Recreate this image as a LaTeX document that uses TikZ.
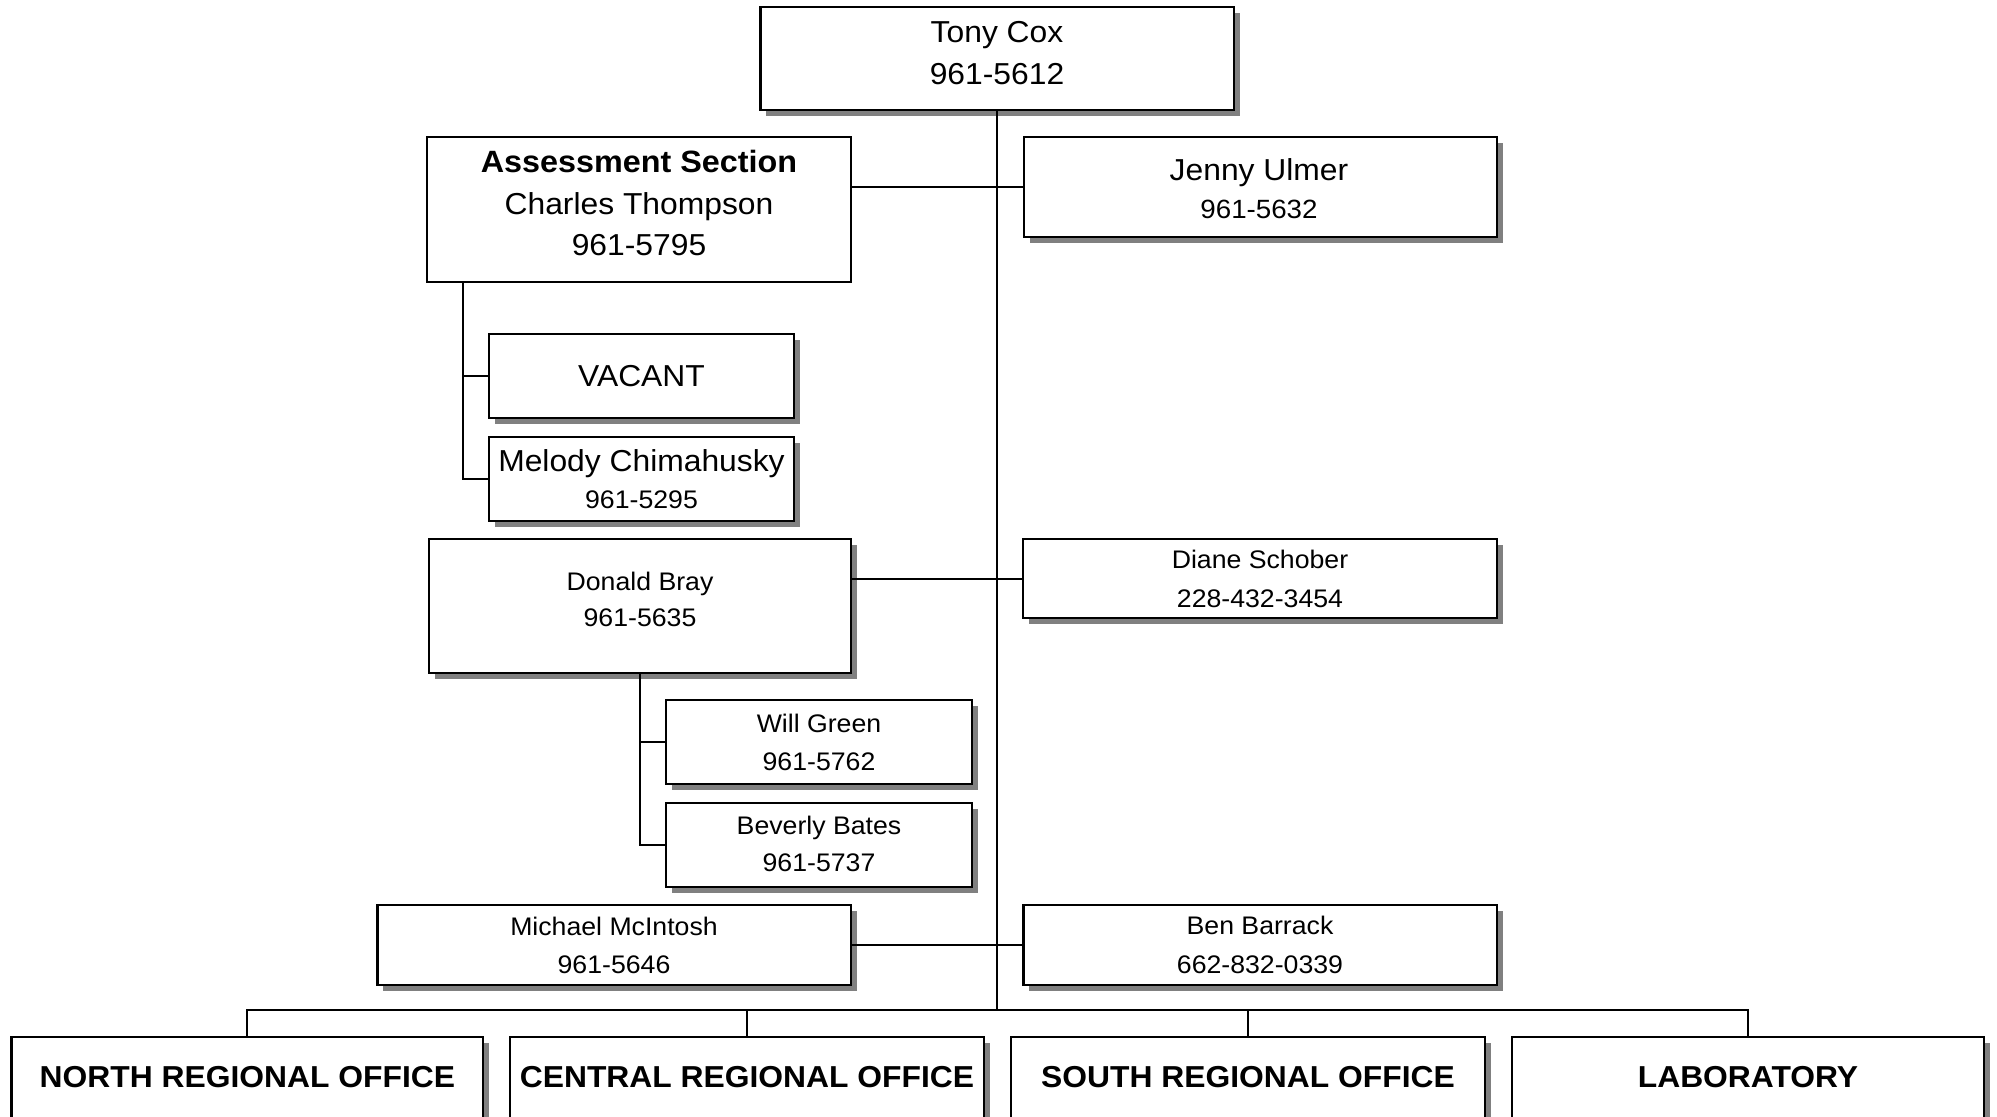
\documentclass[tikz,border=0pt]{standalone}
\usepackage{fontspec}
\setmainfont[FakeStretch=1.05]{Liberation Sans}
\usetikzlibrary{fit,shadows}
\begin{document}
\begin{tikzpicture}[x=0.5pt,y=-0.5pt,
  box/.style={draw=black,line width=1.35pt,fill=white,inner sep=0pt,rectangle},
  shad/.style={box,drop shadow={shadow xshift=2.75pt,shadow yshift=-2.75pt,fill=black!50,opacity=1}},
  conn/.style={draw=black,line width=1pt},
  big/.style={anchor=base,inner sep=0pt,font=\fontsize{15.15pt}{18pt}\selectfont},
  med/.style={anchor=base,inner sep=0pt,font=\fontsize{12.7pt}{15pt}\selectfont},
  jnum/.style={anchor=base,inner sep=0pt,font=\fontsize{13.2pt}{16pt}\selectfont},
  head/.style={anchor=base,inner sep=0pt,font=\fontsize{15.4pt}{19pt}\selectfont\bfseries},
  office/.style={anchor=base,inner sep=0pt,font=\fontsize{15.15pt}{18pt}\selectfont\bfseries}]
\useasboundingbox (0,0) rectangle (1997,1116);
\clip (0,0) rectangle (1997,1116);
\fill[white] (0,0) rectangle (1997,1116);

% boxes
\node[shad,fit={(760.7,7) (1234,110)}] (tony) {};
\node[box,fit={(427,137) (851,282)}] (assess) {};
\node[shad,fit={(1024,137) (1497,237)}] (jenny) {};
\node[shad,fit={(489,334) (794,418)}] (vacant) {};
\node[shad,fit={(489,437) (794,521)}] (melody) {};
\node[shad,fit={(429,539) (851,673)}] (donald) {};
\node[shad,fit={(1023,539) (1497,618)}] (diane) {};
\node[shad,fit={(666,700) (972,784)}] (will) {};
\node[shad,fit={(666,803) (972,887)}] (beverly) {};
\node[shad,fit={(377.5,905) (851,985)}] (michael) {};
\node[shad,fit={(1023.5,905) (1497,985)}] (ben) {};
\node[shad,fit={(11.7,1037) (483,1150)}] (north) {};
\node[shad,fit={(510,1037) (984,1150)}] (central) {};
\node[shad,fit={(1011,1037) (1485,1150)}] (south) {};
\node[shad,fit={(1512,1037) (1984,1150)}] (lab) {};

% connectors
\coordinate (hub) at (997,1010);
\coordinate (aj) at (463,282);
\draw[conn] (tony.south) -- (tony.south |- hub);
\draw[conn] (jenny.west) -- (jenny.west -| assess.east);
\draw[conn] (diane.west) -- (diane.west -| donald.east);
\draw[conn] (ben.west) -- (michael.east);
\draw[conn] (aj) |- (melody.west);
\draw[conn] (vacant.west) -- (vacant.west -| aj);
\draw[conn] (donald.south) |- (beverly.west);
\draw[conn] (will.west) -- (will.west -| donald.south);
\draw[conn] (north.north) -- (north.north |- hub) -- (lab.north |- hub) -- (lab.north);
\draw[conn] (central.north) -- (central.north |- hub);
\draw[conn] (south.north) -- (south.north |- hub);

% texts
\node[big] (t-tony1) at (997,42.3) {Tony Cox};
\node[big] (t-tony2) at (997,84) {961-5612};
\node[head] (t-as1) at (639,172.7) {Assessment Section};
\node[big] (t-as2) at (639,214) {Charles Thompson};
\node[big] (t-as3) at (639,255) {961-5795};
\node[big] (t-jen1) at (1259,180) {Jenny Ulmer};
\node[jnum] (t-jen2) at (1259,218) {961-5632};
\node[big] (t-vac) at (641.5,386.7) {VACANT};
\node[big] (t-mel1) at (641.5,471) {Melody Chimahusky};
\node[med] (t-mel2) at (641.5,508) {961-5295};
\node[med] (t-don1) at (640,590) {Donald Bray};
\node[med] (t-don2) at (640,626) {961-5635};
\node[med] (t-dia1) at (1260,568) {Diane Schober};
\node[med] (t-dia2) at (1260,607) {228-432-3454};
\node[med] (t-wil1) at (819,732.7) {Will Green};
\node[med] (t-wil2) at (819,770) {961-5762};
\node[med] (t-bev1) at (819,834) {Beverly Bates};
\node[med] (t-bev2) at (819,871.7) {961-5737};
\node[med] (t-mic1) at (614,935) {Michael McIntosh};
\node[med] (t-mic2) at (614,973) {961-5646};
\node[med] (t-ben1) at (1260,934) {Ben Barrack};
\node[med] (t-ben2) at (1260,973) {662-832-0339};
\node[office] (t-north) at (247.4,1087) {NORTH REGIONAL OFFICE};
\node[office] (t-central) at (747,1087) {CENTRAL REGIONAL OFFICE};
\node[office] (t-south) at (1248,1087) {SOUTH REGIONAL OFFICE};
\node[office] (t-lab) at (1748,1087) {LABORATORY};
\end{tikzpicture}
\end{document}
